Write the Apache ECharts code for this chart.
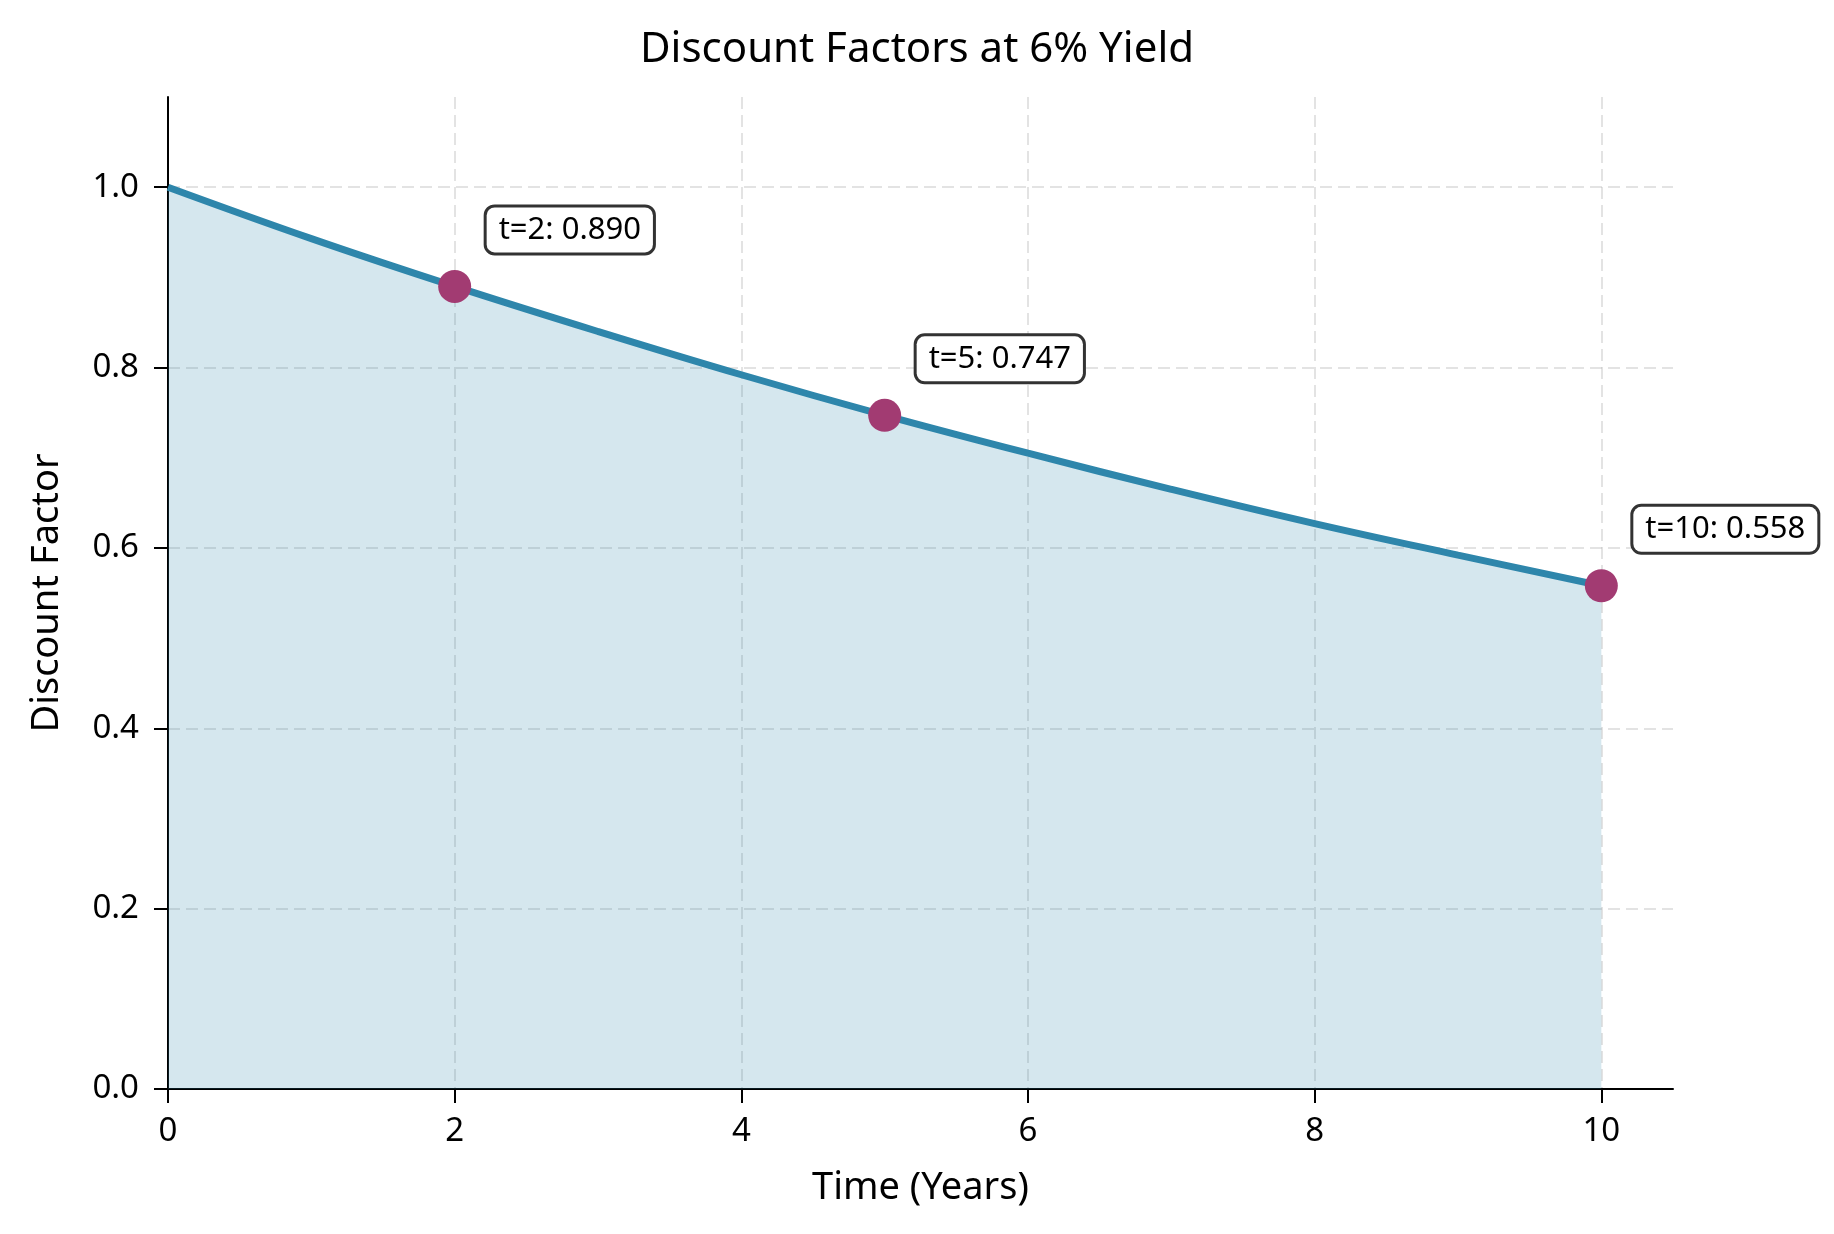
<!DOCTYPE html>
<html>
<head>
<meta charset="utf-8">
<script src="https://cdn.jsdelivr.net/npm/echarts@6/dist/echarts.min.js"></script>
<style>
html,body{margin:0;padding:0;background:#fff;}
#chart{width:1834px;height:1234px;}
</style>
</head>
<body>
<div id="chart"></div>
<script>
// Data
const times = [0, 1, 2, 3, 4, 5, 6, 7, 8, 9, 10];
const factors = [1.000, 0.943, 0.890, 0.840, 0.792, 0.747, 0.705, 0.665, 0.627, 0.592, 0.558];
const markTimes = [2, 5, 10];
const markValues = [0.890, 0.747, 0.558];
const xTicks = [0, 2, 4, 6, 8, 10];
const yTicks = [0, 0.2, 0.4, 0.6, 0.8, 1.0];

const FONT = '"Noto Sans", "Open Sans", sans-serif';
const chart = echarts.init(document.getElementById('chart'), null, {renderer: 'canvas'});

const gridLine = {show: true, showMinLine: false, showMaxLine: true,
  lineStyle: {color: 'rgba(176,176,176,0.35)', width: 2, type: [12, 6]}};

chart.setOption({
  backgroundColor: '#ffffff',
  animation: false,
  title: {
    text: 'Discount Factors at 6% Yield',
    left: 'center', top: 24,
    textStyle: {fontFamily: FONT, fontSize: 42, fontWeight: 'normal', color: '#000'}
  },
  grid: {left: 168, right: 161, top: 97, bottom: 145, containLabel: false},
  xAxis: {
    type: 'value', min: 0, max: 10.5, interval: 2,
    name: 'Time (Years)', nameLocation: 'middle', nameGap: 80,
    nameTextStyle: {fontFamily: FONT, fontSize: 38, color: '#000'},
    axisLine: {show: true, onZero: false, lineStyle: {color: '#000', width: 2}},
    axisTick: {show: true, length: 14, lineStyle: {color: '#000', width: 2}, customValues: xTicks},
    axisLabel: {fontFamily: FONT, fontSize: 33, color: '#000', margin: 26, customValues: xTicks},
    splitLine: gridLine
  },
  yAxis: {
    type: 'value', min: 0, max: 1.1, interval: 0.2,
    name: 'Discount Factor', nameLocation: 'middle', nameGap: 102,
    nameTextStyle: {fontFamily: FONT, fontSize: 38, color: '#000'},
    axisLine: {show: true, onZero: false, lineStyle: {color: '#000', width: 2}},
    axisTick: {show: true, length: 14, lineStyle: {color: '#000', width: 2}, customValues: yTicks},
    axisLabel: {fontFamily: FONT, fontSize: 33, color: '#000', margin: 29, customValues: yTicks,
      formatter: v => v.toFixed(1)},
    splitLine: gridLine
  },
  series: [
    {
      type: 'line',
      data: times.map((t, i) => [t, factors[i]]),
      showSymbol: false,
      smooth: 0.4,
      lineStyle: {color: '#2E86AB', width: 7},
      areaStyle: {color: 'rgba(46,134,171,0.2)', opacity: 1, origin: 'start'},
      z: 2
    },
    {
      type: 'scatter',
      data: markTimes.map((t, i) => [t, markValues[i]]),
      symbolSize: 33,
      itemStyle: {color: '#A23B72', opacity: 1},
      label: {
        show: true,
        position: [48.5, -40],
        align: 'left',
        verticalAlign: 'middle',
        formatter: p => 't=' + p.value[0] + ': ' + p.value[1].toFixed(3),
        fontFamily: FONT, fontSize: 31, lineHeight: 33, color: '#000',
        backgroundColor: '#fff',
        borderColor: '#333', borderWidth: 3, borderRadius: 8,
        padding: [7, 12, 5, 12]
      },
      z: 3
    }
  ]
});
</script>
</body>
</html>
